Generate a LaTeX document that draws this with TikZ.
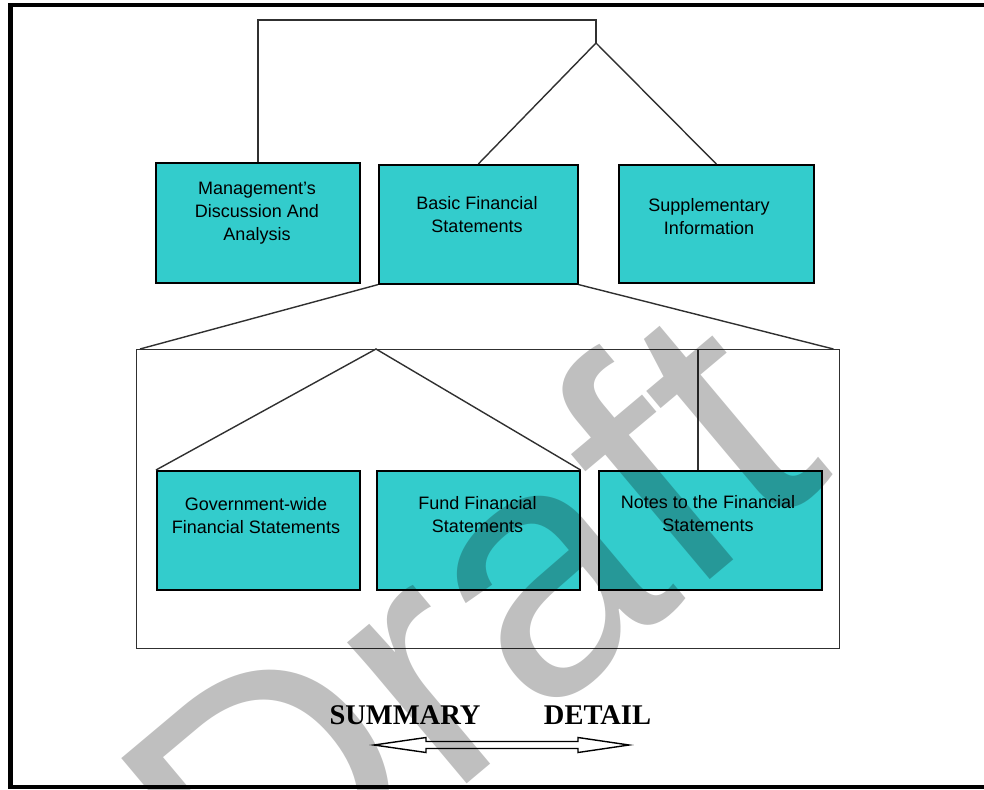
\documentclass[tikz,border=0pt]{standalone}
\usepackage{fontspec}
\setmainfont{Liberation Sans}
\newfontfamily\labelfont{Liberation Serif}
\newfontfamily\wmfont{Liberation Sans}
\definecolor{boxcyan}{HTML}{33CCCC}
\definecolor{linegray}{HTML}{303030}
\tikzset{
  box/.style={draw=black, line width=1.6pt, fill=boxcyan, anchor=north west, inner sep=0pt},
  boxtext/.style={align=center, inner sep=0pt, font=\fontsize{18}{23}\selectfont},
  conn/.style={draw=linegray, line width=1.4pt},
  frameline/.style={draw=black, line width=4.5pt},
  endlabel/.style={inner sep=0pt, font=\labelfont\bfseries\fontsize{28.5}{30}\selectfont},
  watermark/.style={inner sep=0pt, text=black, text opacity=0.25, font=\wmfont\fontsize{350}{350}\selectfont}
}
\begin{document}
\begin{tikzpicture}[x=1pt,y=-1pt]
\useasboundingbox (0,0) rectangle (984,789);
\clip (0,0) rectangle (984,789);
\fill[white] (0,0) rectangle (984,789);
% outer frame
\draw[frameline] (10.5,5) rectangle (1000,787);
% top row boxes
\node[box, minimum width=204pt, minimum height=120pt] (mgmt) at (155,162) {};
\node[box, minimum width=199pt, minimum height=119pt] (basic) at (378,164) {};
\node[box, minimum width=195pt, minimum height=118pt] (supp) at (618,164) {};
\node[boxtext] (mgmtT) at (257,213) {Management's\\Discussion And\\Analysis};
\node[boxtext] (basicT) at (477,214.5) {Basic Financial\\Statements};
\node[boxtext] (suppT) at (709,216.5) {Supplementary\\Information};
% inner big box
\node[draw=linegray, line width=1.4pt, anchor=north west, minimum width=703pt, minimum height=299pt, inner sep=0pt] (inner) at (136,349) {};
% bottom row boxes
\node[box, minimum width=203pt, minimum height=119pt] (gov) at (156,470) {};
\node[box, minimum width=203pt, minimum height=119pt] (fund) at (376,470) {};
\node[box, minimum width=223pt, minimum height=119pt] (notes) at (598,470) {};
\node[boxtext] (govT) at (256,516) {Government-wide\\Financial Statements};
\node[boxtext] (fundT) at (477.5,514.5) {Fund Financial\\Statements};
\node[boxtext] (notesT) at (708,513.5) {Notes to the Financial\\Statements};
% connectors at top
\coordinate (topR) at (596,20);
\coordinate (split) at (596,43);
\draw[conn] (mgmt.north) |- (topR) -- (split);
\draw[conn] (basic.north) -- (split) -- (supp.north);
% connectors to inner box
\draw[conn] (basic.south west) -- ([xshift=4pt]inner.north west);
\draw[conn] (basic.south east) -- ([xshift=-7pt]inner.north east);
\coordinate (apex) at (376,349);
\draw[conn] (gov.north west) -- (apex) -- (fund.north east);
\coordinate (notesTop) at (698,349);
\draw[conn] (notesTop) -- (notesTop |- notes.north);
% labels
\node[endlabel] (summary) at (405,715) {SUMMARY};
\node[endlabel] (detail) at (597.5,715) {DETAIL};
% double hollow arrow
\draw[line width=1.4pt, fill=white, line join=miter]
  (374,745) -- (426,737.5) -- (426,741.5) -- (578,741.5) -- (578,737.5) -- (629,745)
  -- (578,752.5) -- (578,748.5) -- (426,748.5) -- (426,752.5) -- cycle;
% watermark
\node[watermark, rotate=40] (wm) at (465,622) {Draft};
\end{tikzpicture}
\end{document}
